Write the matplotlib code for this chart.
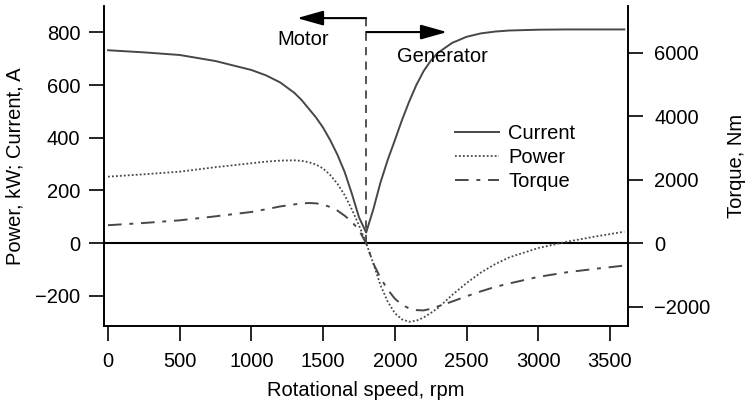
import numpy as np
import matplotlib
matplotlib.use('Agg')
import matplotlib.pyplot as plt

plt.rcParams['font.family'] = ['Liberation Sans', 'DejaVu Sans']
plt.rcParams['font.size'] = 14.5

# values
rpm = [0, 250, 500, 750, 1000, 1100, 1200, 1300, 1350, 1400, 1450, 1500,
       1550, 1600, 1650, 1700, 1750, 1800, 1850, 1900, 1950, 2000, 2050,
       2100, 2150, 2200, 2250, 2300, 2400, 2500, 2600, 2700, 2800, 3000,
       3200, 3400, 3600]
current = [732, 724, 714, 691, 657, 637, 610, 570, 543, 510, 477, 438,
           390, 335, 270, 188, 98, 40, 128, 230, 315, 390, 467,
           537, 600, 652, 692, 722, 760, 783, 796, 803, 807, 810,
           811, 811, 811]
power = [252, 261, 271, 288, 303, 309, 313, 314, 312, 307, 298, 283,
         258, 225, 182, 128, 67, 0, -77, -160, -222, -266, -290,
         -299, -295, -283, -266, -247, -197, -152, -112, -80, -54, -19,
         5, 25, 43]
torque = [570, 640, 724, 850, 987, 1070, 1160, 1225, 1255, 1268, 1258, 1220,
          1140, 1030, 870, 680, 420, 0, -630, -1090, -1450, -1740, -1930,
          -2050, -2100, -2110, -2060, -1985, -1830, -1665, -1510, -1370, -1260, -1055,
          -910, -800, -700]

line_col = '#474747'

fig = plt.figure(figsize=(7.45, 4.04), dpi=100)
ax = fig.add_axes([104 / 745, 1 - 326 / 404, 524 / 745, 320 / 404])
ax2 = ax.twinx()

l1, = ax.plot(rpm, current, color=line_col, lw=1.4, label='Current')
l2, = ax.plot(rpm, power, color=line_col, lw=1.3, linestyle=(0, (1, 1.2)), label='Power')
l3, = ax2.plot(rpm, torque, color=line_col, lw=1.4, linestyle=(0, (7, 4, 2, 4)), label='Torque')

ax.axhline(0, color='k', lw=1.5, zorder=1)
ax.plot([1800, 1800], [0, 873], color=line_col, lw=1.3, linestyle=(0, (4.5, 3.5)))

arrow = dict(arrowstyle='-|>,head_length=1.6,head_width=0.45', color='k', lw=1.5,
             shrinkA=0, shrinkB=0, mutation_scale=10)
ax.annotate('', xy=(1318, 854), xytext=(1800, 854), arrowprops=arrow)
ax.annotate('', xy=(2364, 801), xytext=(1800, 801), arrowprops=arrow)
ax.text(1360, 774, 'Motor', ha='center', va='center')
ax.text(2329, 710, 'Generator', ha='center', va='center')

ax.set_xlim(-28, 3626)
ax.set_ylim(-315, 900)
ax2.set_ylim(-2600, 7465)

ax.set_xticks(np.arange(0, 3501, 500))
ax.set_yticks(np.arange(-200, 801, 200))
ax2.set_yticks(np.arange(-2000, 6001, 2000))

for a in (ax, ax2):
    a.spines['top'].set_visible(False)
    for s in a.spines.values():
        s.set_linewidth(1.2)
    a.tick_params(direction='out', length=11, width=1.2)
ax.tick_params(axis='y', pad=6)
ax.tick_params(axis='x', pad=8)
ax2.tick_params(axis='y', pad=8)

ax.set_xlabel('Rotational speed, rpm', labelpad=7)
ax.set_ylabel('Power, kW; Current, A', labelpad=8)
ax2.set_ylabel('Torque, Nm', labelpad=12)

fig.legend(handles=[l1, l2, l3], loc='upper left', bbox_to_anchor=(455 / 745, 1 - 124 / 404),
           frameon=False, borderpad=0, borderaxespad=0, handlelength=2.2,
           handletextpad=0.45, labelspacing=0.25)

plt.savefig('out.png', dpi=100)
